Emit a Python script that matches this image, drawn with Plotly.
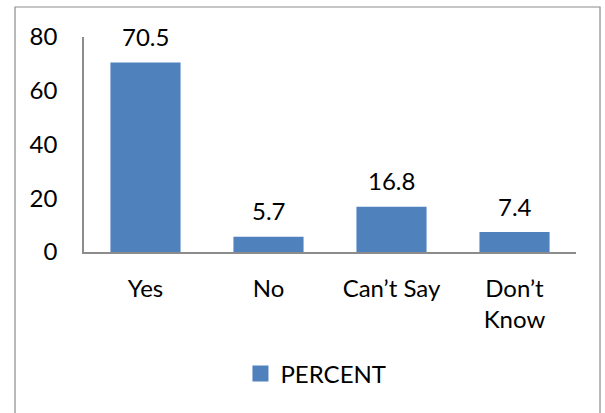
import plotly.graph_objects as go

# Survey responses (percent)
categories = ["Yes", "No", "Can’t Say", "Don’t<br>Know"]
percent = [70.5, 5.7, 16.8, 7.4]
y_ticks = [0, 20, 40, 60, 80]
series_name = "PERCENT"

FONT = "Lato"
FONT_SIZE = 24
BLUE = "#4F81BD"
AXIS_GREY = "#8C8C8C"

fig = go.Figure()
fig.add_trace(go.Bar(
    x=categories,
    y=percent,
    name=series_name,
    marker=dict(color=BLUE, line=dict(width=0)),
    showlegend=False,
    legendgroup="pct",
))
# legend key drawn as a larger square swatch
fig.add_trace(go.Scatter(
    x=[None], y=[None], mode="markers", name=series_name,
    marker=dict(symbol="square", size=16, color=BLUE),
    legendgroup="pct", showlegend=True,
))

# value labels above each bar
for cat, val in zip(categories, percent):
    fig.add_annotation(
        x=cat, y=val, text=f"{val}", showarrow=False,
        yanchor="middle", yshift=26,
        font=dict(family=FONT, size=FONT_SIZE, color="#000000"),
    )

# outer chart frame
fig.add_shape(
    type="rect", xref="paper", yref="paper",
    x0=-0.1402, x1=1.0488, y0=-0.76, y1=1.1395,
    line=dict(color=AXIS_GREY, width=1.2), fillcolor="rgba(0,0,0,0)",
    layer="below",
)

fig.update_layout(
    width=605, height=413,
    margin=dict(l=84, r=29, t=37, b=161),
    paper_bgcolor="white", plot_bgcolor="white",
    bargap=0.43,
    font=dict(family=FONT, size=FONT_SIZE, color="#000000"),
    showlegend=True,
    legend=dict(
        orientation="h", x=0.318, xanchor="left", y=-0.567, yanchor="middle",
        font=dict(family=FONT, size=FONT_SIZE, color="#000000"),
        bgcolor="rgba(0,0,0,0)", itemwidth=30,
    ),
    xaxis=dict(
        showline=True, linecolor=AXIS_GREY, linewidth=1.5,
        showgrid=False, ticks="", ticklabelstandoff=14,
        tickfont=dict(family=FONT, size=FONT_SIZE),
    ),
    yaxis=dict(
        range=[0, 80], tickvals=y_ticks,
        showline=True, linecolor=AXIS_GREY, linewidth=1.5,
        showgrid=False, zeroline=False, ticks="", ticklabelstandoff=20,
        tickfont=dict(family=FONT, size=FONT_SIZE),
    ),
)

fig.write_html("out.html")
